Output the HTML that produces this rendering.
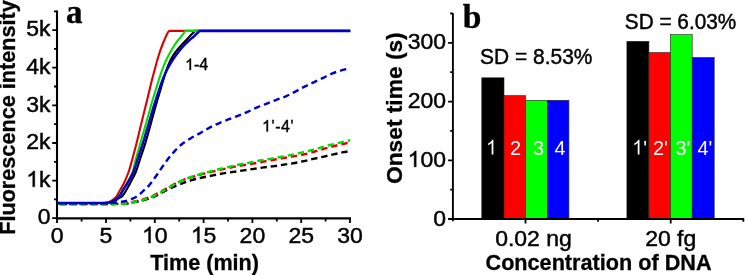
<!DOCTYPE html>
<html>
<head>
<meta charset="utf-8">
<style>
html,body{margin:0;padding:0;background:#fff;}
body{width:747px;height:275px;overflow:hidden;}
svg{display:block;will-change:transform;}
text{font-family:"Liberation Sans", sans-serif;}
.t{font-size:23px;fill:#000;stroke:#000;stroke-width:0.45px;}
.sd{font-size:21px;fill:#000;stroke:#000;stroke-width:0.45px;}
.b{font-size:22px;font-weight:bold;fill:#000;stroke:#000;stroke-width:0.3px;}
.w{font-size:20px;fill:#fff;}
.s{font-size:16px;fill:#000;stroke:#000;stroke-width:0.4px;}
.h{fill:none;stroke:none;}
.p{font-family:"Liberation Serif", serif;font-size:33px;font-weight:bold;fill:#000;stroke:#000;stroke-width:0.4px;}
</style>
</head>
<body>
<svg width="747" height="275" viewBox="0 0 747 275">
<!-- ================= PLOT A ================= -->
<g id="curvesA" fill="none" stroke-linejoin="round" stroke-linecap="butt">
  <path stroke="#000" stroke-width="2.4" stroke-dasharray="6.40 3.88" stroke-dashoffset="-3.55" d="M57.0,204.0 C74.7,204.0 92.3,204.0 110.0,204.0 C112.7,204.0 115.3,203.9 118.0,203.9 C120.7,203.9 123.3,204.1 126.0,203.8 C128.6,203.5 131.1,202.8 133.7,202.3 C137.1,201.6 140.5,201.1 143.8,200.2 C147.1,199.3 150.4,198.2 153.5,196.9 C156.7,195.6 159.6,193.8 162.7,192.2 C165.9,190.6 169.0,188.8 172.3,187.3 C175.4,185.9 178.5,184.7 181.7,183.5 C185.1,182.3 188.5,181.1 191.9,180.1 C195.3,179.1 198.7,178.3 202.1,177.5 C205.7,176.7 209.4,176.1 213.0,175.4 C216.4,174.7 219.8,174.0 223.2,173.4 C226.6,172.8 230.0,172.4 233.4,171.9 C236.8,171.4 240.1,170.9 243.5,170.4 C247.0,169.9 250.4,169.4 253.9,168.9 C257.2,168.4 260.4,167.8 263.7,167.4 C267.2,166.9 270.8,166.6 274.3,166.1 C277.6,165.7 280.8,165.1 284.1,164.6 C287.7,164.1 291.2,163.6 294.8,163.0 C297.8,162.5 300.8,161.9 303.8,161.2 C306.9,160.5 310.1,159.6 313.2,158.9 C316.5,158.2 319.7,157.5 323.0,156.8 C326.5,156.0 329.9,155.2 333.4,154.4 C336.8,153.6 340.1,152.9 343.5,152.2 C345.7,151.7 348.0,151.4 350.2,151.0"/>
  <path stroke="#dd0000" stroke-width="2.4" stroke-dasharray="6.40 4.00" stroke-dashoffset="-2.33" d="M57.0,204.0 C74.7,204.0 92.3,204.0 110.0,204.0 C112.7,204.0 115.3,204.0 118.0,203.9 C120.7,203.8 123.4,203.8 126.0,203.4 C128.6,203.0 131.1,202.2 133.7,201.6 C137.1,200.8 140.5,200.1 143.8,199.1 C147.1,198.1 150.4,196.9 153.5,195.5 C156.7,194.1 159.7,192.3 162.7,190.6 C165.6,189.0 168.4,187.3 171.3,185.7 C174.0,184.2 176.7,182.7 179.5,181.5 C182.6,180.1 185.8,179.0 189.0,177.9 C192.4,176.8 195.8,175.9 199.2,175.0 C202.6,174.1 206.0,173.3 209.4,172.4 C212.8,171.6 216.1,170.7 219.5,169.9 C222.9,169.1 226.3,168.4 229.7,167.7 C233.3,167.0 237.0,166.2 240.6,165.6 C244.2,165.0 247.8,164.5 251.4,163.9 C254.7,163.3 258.0,162.6 261.3,162.0 C264.6,161.4 267.8,160.8 271.1,160.2 C274.6,159.6 278.2,159.0 281.7,158.4 C285.0,157.8 288.2,157.2 291.5,156.6 C295.9,155.8 300.4,155.2 304.8,154.2 C308.1,153.5 311.3,152.4 314.6,151.5 C317.9,150.6 321.1,149.6 324.4,148.7 C327.7,147.8 330.9,146.8 334.2,146.0 C337.7,145.1 341.3,144.4 344.9,143.6 C346.7,143.2 348.4,142.9 350.2,142.6"/>
  <path stroke="#00dd00" stroke-width="2.4" stroke-dasharray="6.40 3.91" stroke-dashoffset="-1.74" d="M57.0,204.0 C74.7,204.0 92.3,204.0 110.0,204.0 C112.7,204.0 115.3,204.0 118.0,203.9 C120.7,203.8 123.4,203.9 126.0,203.6 C128.6,203.3 131.1,202.6 133.7,202.0 C137.1,201.2 140.5,200.6 143.8,199.6 C147.1,198.6 150.4,197.5 153.5,196.1 C156.7,194.7 159.7,192.9 162.7,191.2 C165.6,189.6 168.4,187.8 171.3,186.1 C174.0,184.6 176.7,182.9 179.5,181.6 C182.6,180.1 185.8,178.8 189.0,177.6 C192.3,176.4 195.8,175.4 199.2,174.4 C202.6,173.4 206.0,172.5 209.4,171.6 C212.8,170.7 216.1,169.8 219.5,169.0 C222.9,168.2 226.3,167.4 229.7,166.6 C233.3,165.8 237.0,165.0 240.6,164.3 C244.2,163.6 247.8,163.0 251.4,162.3 C254.7,161.7 258.0,160.9 261.3,160.3 C264.6,159.7 267.8,159.2 271.1,158.6 C274.6,158.0 278.2,157.4 281.7,156.8 C285.0,156.2 288.2,155.6 291.5,154.9 C294.8,154.2 298.2,153.4 301.5,152.6 C304.8,151.8 308.1,151.1 311.3,150.2 C314.6,149.3 317.9,148.2 321.2,147.3 C324.2,146.5 327.1,145.7 330.1,145.0 C333.4,144.2 336.7,143.4 340.0,142.6 C343.4,141.8 346.8,141.0 350.2,140.2"/>
  <path stroke="#0000cc" stroke-width="2.4" stroke-dasharray="6.40 4.04" stroke-dashoffset="-1.35" d="M57.0,203.3 C74.0,203.3 91.0,203.4 108.0,203.3 C110.0,203.3 112.0,203.1 114.0,202.9 C115.7,202.7 117.3,202.5 119.0,202.2 C121.0,201.9 123.0,201.7 125.0,201.2 C127.6,200.5 130.1,199.6 132.6,198.6 C134.1,198.0 135.6,197.2 137.0,196.3 C138.5,195.3 139.9,194.0 141.3,192.8 C142.7,191.6 144.1,190.3 145.5,189.0 C146.8,187.8 148.1,186.6 149.2,185.2 C151.3,182.6 153.3,179.9 155.2,177.2 C157.5,174.0 159.6,170.8 161.8,167.6 C163.7,164.9 165.6,162.2 167.6,159.6 C169.7,156.9 171.9,154.1 174.2,151.6 C176.7,148.9 179.2,146.3 182.0,144.0 C184.8,141.8 187.9,140.0 190.9,138.2 C194.2,136.2 197.6,134.6 200.9,132.7 C204.0,131.0 206.9,129.0 210.0,127.4 C213.3,125.7 216.6,124.2 220.0,122.8 C223.0,121.5 226.1,120.4 229.1,119.2 C232.4,117.9 235.8,116.7 239.1,115.4 C242.2,114.2 245.2,112.9 248.2,111.6 C251.2,110.3 254.2,108.7 257.2,107.4 C260.4,106.0 263.6,104.9 266.8,103.6 C270.0,102.3 273.3,101.0 276.5,99.8 C279.6,98.6 282.8,97.6 285.9,96.3 C289.1,94.9 292.3,93.2 295.4,91.6 C298.6,89.9 301.8,88.0 305.0,86.4 C308.0,84.9 311.1,83.5 314.1,82.1 C317.3,80.6 320.5,79.1 323.7,77.6 C326.6,76.2 329.5,74.6 332.5,73.4 C335.6,72.1 338.9,71.1 342.1,70.2 C344.8,69.4 347.5,68.9 350.2,68.3"/>
  <path stroke="#dd0000" stroke-width="2.1" d="M57.0,203.0 C71.3,203.0 85.7,203.1 100.0,203.0 C101.7,203.0 103.3,203.0 105.0,202.8 C106.2,202.7 107.4,202.5 108.5,202.1 C109.6,201.8 110.6,201.3 111.5,200.7 C112.4,200.1 113.2,199.4 114.0,198.7 C114.8,198.0 115.9,197.4 116.5,196.5 C117.9,194.5 118.9,192.2 120.1,190.0 C121.6,187.3 123.2,184.8 124.5,182.0 C126.0,178.7 127.4,175.4 128.6,172.0 C130.0,168.1 131.0,164.0 132.1,160.0 C133.5,155.0 134.8,150.0 136.1,145.0 C137.4,140.0 138.5,135.0 139.7,130.0 C140.9,125.0 142.2,120.0 143.4,115.0 C144.6,110.0 145.9,105.0 147.1,100.0 C147.9,96.7 148.7,93.3 149.5,90.0 C150.3,86.7 151.1,83.3 151.9,80.0 C152.8,76.7 153.7,73.3 154.6,70.0 C155.5,66.7 156.3,63.3 157.3,60.0 C158.1,57.3 158.9,54.7 159.8,52.0 C160.6,49.6 161.4,47.3 162.3,45.0 C163.0,43.1 163.8,41.3 164.6,39.5 C165.2,38.0 165.9,36.5 166.6,35.0 C167.0,34.1 167.4,33.1 168.0,32.3 C168.4,31.8 168.9,31.4 169.3,30.9 L350.2,30.9"/>
  <path stroke="#000" stroke-width="2.1" d="M57.0,203.0 C72.3,203.0 87.7,203.1 103.0,203.0 C104.7,203.0 106.3,203.0 108.0,202.8 C109.3,202.7 110.7,202.5 112.0,202.1 C113.2,201.7 114.4,201.2 115.5,200.6 C116.6,200.0 117.5,199.1 118.5,198.4 C119.8,197.6 121.4,197.1 122.4,196.0 C124.0,194.2 125.2,192.1 126.4,190.0 C128.0,187.4 129.4,184.7 130.8,182.0 C132.5,178.7 134.4,175.4 135.8,172.0 C137.4,168.1 138.5,164.0 139.8,160.0 C141.5,155.0 143.2,150.0 144.8,145.0 C146.3,140.0 147.7,135.0 149.1,130.0 C150.5,125.0 151.8,120.0 153.2,115.0 C154.6,110.0 156.0,105.0 157.4,100.0 C158.4,96.7 159.4,93.3 160.4,90.0 C161.4,86.7 162.3,83.3 163.3,80.0 C164.3,76.7 165.2,73.3 166.4,70.0 C167.6,66.6 169.0,63.2 170.6,60.0 C172.0,57.2 173.7,54.5 175.6,52.0 C177.4,49.5 179.6,47.3 181.6,45.0 C183.0,43.5 184.4,42.0 185.8,40.5 C187.1,39.2 188.3,37.8 189.6,36.5 C190.5,35.5 191.4,34.5 192.4,33.5 C193.3,32.6 194.3,31.8 195.2,30.9 L350.2,30.9"/>
  <path stroke="#00dd00" stroke-width="2.1" d="M57.0,203.0 C72.0,203.0 87.0,203.1 102.0,203.0 C103.7,203.0 105.3,203.0 107.0,202.8 C108.2,202.7 109.4,202.5 110.5,202.1 C111.6,201.7 112.8,201.2 113.8,200.6 C114.8,200.0 115.6,199.2 116.4,198.5 C117.4,197.7 118.4,197.0 119.2,196.0 C120.6,194.1 121.6,192.0 122.8,190.0 C124.4,187.3 126.2,184.7 127.7,182.0 C129.5,178.7 131.3,175.5 132.6,172.0 C134.0,168.1 134.5,164.0 135.6,160.0 C136.9,155.0 138.4,150.0 139.8,145.0 C141.2,140.0 142.7,135.0 144.1,130.0 C145.5,125.0 147.0,120.0 148.4,115.0 C149.8,110.0 151.1,105.0 152.6,100.0 C153.6,96.7 154.7,93.3 155.7,90.0 C156.7,86.7 157.7,83.3 158.8,80.0 C159.9,76.7 160.9,73.3 162.1,70.0 C163.4,66.6 164.7,63.3 166.2,60.0 C167.5,57.3 168.9,54.6 170.4,52.0 C171.7,49.6 173.1,47.3 174.6,45.0 C175.7,43.3 176.9,41.6 178.2,40.0 C179.1,38.8 180.2,37.7 181.2,36.5 C182.0,35.5 182.8,34.3 183.6,33.3 C184.2,32.5 184.9,31.7 185.6,30.9 L350.2,30.9"/>
  <path stroke="#0000c8" stroke-width="2.5" d="M57.0,203.0 C72.0,203.0 87.0,203.1 102.0,203.0 C103.7,203.0 105.3,203.0 107.0,202.8 C108.2,202.7 109.4,202.5 110.5,202.1 C111.6,201.7 112.8,201.2 113.8,200.6 C114.8,200.0 115.7,199.2 116.6,198.5 C117.6,197.7 118.7,197.0 119.5,196.0 C120.9,194.1 121.9,192.0 123.1,190.0 C124.7,187.3 126.5,184.7 128.1,182.0 C130.0,178.7 131.9,175.5 133.4,172.0 C135.0,168.1 136.1,164.0 137.4,160.0 C139.1,155.0 140.8,150.0 142.4,145.0 C144.0,140.0 145.3,135.0 146.8,130.0 C148.3,125.0 149.7,120.0 151.2,115.0 C152.7,110.0 154.2,105.0 155.8,100.0 C156.9,96.7 158.0,93.3 159.1,90.0 C160.2,86.7 161.3,83.3 162.6,80.0 C163.9,76.6 165.3,73.2 166.9,70.0 C168.6,66.6 170.5,63.2 172.6,60.0 C174.4,57.2 176.4,54.6 178.4,52.0 C180.3,49.6 182.3,47.2 184.4,45.0 C186.0,43.2 187.8,41.6 189.6,40.0 C191.1,38.7 192.7,37.5 194.2,36.2 C195.3,35.3 196.2,34.2 197.2,33.2 C198.0,32.4 198.8,31.7 199.6,30.9 L350.2,30.9"/>
</g>
<!-- axes A -->
<g stroke="#000" stroke-width="1.9" fill="none">
  <path d="M57.0,10.4 V219.3 M56.0,218.35 H350.9" stroke-width="2.1"/>
  <!-- y major ticks -->
  <path d="M52.2,218.2 H57 M52.2,180.6 H57 M52.2,143 H57 M52.2,105.4 H57 M52.2,67.6 H57 M52.2,30.2 H57" stroke-width="1.8"/>
  <!-- y minor ticks -->
  <path d="M54,199.4 H57 M54,161.8 H57 M54,124.2 H57 M54,86.5 H57 M54,48.9 H57 M54,11.3 H57" stroke-width="1.8"/>
  <!-- x major ticks -->
  <path d="M57.0,218 V223.1 M106,218 V223.1 M154.8,218 V223.1 M203.6,218 V223.1 M252.4,218 V223.1 M301.2,218 V223.1 M350,218 V223.1" stroke-width="1.8"/>
  <!-- x minor ticks -->
  <path d="M81.6,218 V221.6 M130.4,218 V221.6 M179.2,218 V221.6 M228,218 V221.6 M276.8,218 V221.6 M325.6,218 V221.6" stroke-width="1.8"/>
</g>
<!-- tick labels A -->

<!-- ================= PLOT B ================= -->
<g stroke="#222" stroke-width="0.6">
  <rect x="481.80" y="77.80" width="22.20" height="141.20" fill="#000"/>
  <rect x="504.00" y="95.60" width="21.60" height="123.40" fill="#ff0000"/>
  <rect x="525.60" y="100.30" width="21.70" height="118.70" fill="#00ff00"/>
  <rect x="547.30" y="100.30" width="21.60" height="118.70" fill="#0000ff"/>
  <rect x="626.90" y="41.30" width="22.00" height="177.70" fill="#000"/>
  <rect x="648.90" y="52.50" width="21.50" height="166.50" fill="#ff0000"/>
  <rect x="670.40" y="34.60" width="21.80" height="184.40" fill="#00ff00"/>
  <rect x="692.20" y="57.50" width="22.00" height="161.50" fill="#0000ff"/>
</g>
<g stroke="#000" stroke-width="1.9" fill="none">
  <path d="M452.9,13.2 V221.3 M452,219 H744.2"/>
  <path d="M448.1,219 H453 M448.1,160.3 H453 M448.1,101.6 H453 M448.1,42.8 H453" stroke-width="1.8"/>
  <path d="M450.2,189.6 H453 M450.2,130.9 H453 M450.2,72.2 H453 M450.2,13.5 H453" stroke-width="1.8"/>
  <path d="M525.5,219 V223.6 M670.7,219 V223.6" stroke-width="1.8"/>
  <path d="M598,219 V221.8 M743.3,219 V221.8" stroke-width="1.8"/>
</g>
<!--TEXT-START-->
<text class="t" transform="translate(50.50,224.40) scale(1.045,1)" text-anchor="end" style="font-size:22px;">0</text>
<g transform="translate(50.50,186.80) scale(1.045,1)"><text class="t" text-anchor="end" style="font-size:22px;"><tspan class="h">1</tspan>k</text><path d="M763,0L583,0L583,1147Q518,1085 412,1023Q307,961 223,930L223,1104Q373,1175 486,1276Q599,1377 645,1472L763,1472Z" transform="translate(-23.24,0) scale(0.01074,-0.01074)" fill="#000" stroke="#000" stroke-width="0.45" vector-effect="non-scaling-stroke"/></g>
<text class="t" transform="translate(50.50,149.20) scale(1.045,1)" text-anchor="end" style="font-size:22px;">2k</text>
<text class="t" transform="translate(50.50,111.60) scale(1.045,1)" text-anchor="end" style="font-size:22px;">3k</text>
<text class="t" transform="translate(50.50,73.80) scale(1.045,1)" text-anchor="end" style="font-size:22px;">4k</text>
<text class="t" transform="translate(50.50,36.40) scale(1.045,1)" text-anchor="end" style="font-size:22px;">5k</text>
<text class="t" transform="translate(57.20,242.90) scale(1.02,1)" text-anchor="middle" style="font-size:22.6px;">0</text>
<text class="t" transform="translate(106.00,242.90) scale(1.02,1)" text-anchor="middle" style="font-size:22.6px;">5</text>
<g transform="translate(154.80,242.90) scale(1.02,1)"><text class="t" text-anchor="middle" style="font-size:22.6px;"><tspan class="h">1</tspan>0</text><path d="M763,0L583,0L583,1147Q518,1085 412,1023Q307,961 223,930L223,1104Q373,1175 486,1276Q599,1377 645,1472L763,1472Z" transform="translate(-12.57,0) scale(0.01104,-0.01104)" fill="#000" stroke="#000" stroke-width="0.45" vector-effect="non-scaling-stroke"/></g>
<g transform="translate(203.60,242.90) scale(1.02,1)"><text class="t" text-anchor="middle" style="font-size:22.6px;"><tspan class="h">1</tspan>5</text><path d="M763,0L583,0L583,1147Q518,1085 412,1023Q307,961 223,930L223,1104Q373,1175 486,1276Q599,1377 645,1472L763,1472Z" transform="translate(-12.57,0) scale(0.01104,-0.01104)" fill="#000" stroke="#000" stroke-width="0.45" vector-effect="non-scaling-stroke"/></g>
<text class="t" transform="translate(252.40,242.90) scale(1.02,1)" text-anchor="middle" style="font-size:22.6px;">20</text>
<text class="t" transform="translate(301.20,242.90) scale(1.02,1)" text-anchor="middle" style="font-size:22.6px;">25</text>
<text class="t" transform="translate(350.00,242.90) scale(1.02,1)" text-anchor="middle" style="font-size:22.6px;">30</text>
<text class="b" transform="translate(150.20,269.80)" style="font-size:21.6px;">Time (min)</text>
<text class="b" transform="translate(15.20,234.80) rotate(-90)" style="font-size:21.65px;">Fluorescence intensity</text>
<text class="p" transform="translate(66.00,23.00)" style="font-size:33px;">a</text>
<g transform="translate(185.00,70.00)"><text class="s" style="font-size:16px;"><tspan class="h">1</tspan>-4</text><path d="M763,0L583,0L583,1147Q518,1085 412,1023Q307,961 223,930L223,1104Q373,1175 486,1276Q599,1377 645,1472L763,1472Z" transform="translate(0.00,0) scale(0.00781,-0.00781)" fill="#000" stroke="#000" stroke-width="0.4" vector-effect="non-scaling-stroke"/></g>
<g transform="translate(262.00,131.50)"><text class="s" style="font-size:16px;letter-spacing:0.6px;"><tspan class="h">1</tspan>'-4'</text><path d="M763,0L583,0L583,1147Q518,1085 412,1023Q307,961 223,930L223,1104Q373,1175 486,1276Q599,1377 645,1472L763,1472Z" transform="translate(0.00,0) scale(0.00781,-0.00781)" fill="#000" stroke="#000" stroke-width="0.4" vector-effect="non-scaling-stroke"/></g>
<text class="t" transform="translate(446.00,225.60) scale(1.045,1)" text-anchor="end" style="font-size:22px;">0</text>
<g transform="translate(446.00,166.90) scale(1.045,1)"><text class="t" text-anchor="end" style="font-size:22px;"><tspan class="h">1</tspan>00</text><path d="M763,0L583,0L583,1147Q518,1085 412,1023Q307,961 223,930L223,1104Q373,1175 486,1276Q599,1377 645,1472L763,1472Z" transform="translate(-36.71,0) scale(0.01074,-0.01074)" fill="#000" stroke="#000" stroke-width="0.45" vector-effect="non-scaling-stroke"/></g>
<text class="t" transform="translate(446.00,108.20) scale(1.045,1)" text-anchor="end" style="font-size:22px;">200</text>
<text class="t" transform="translate(446.00,49.40) scale(1.045,1)" text-anchor="end" style="font-size:22px;">300</text>
<g transform="translate(491.50,154.60) scale(0.97,1)"><text class="w" text-anchor="middle" style="font-size:20.5px;"><tspan class="h">1</tspan></text><path d="M763,0L583,0L583,1147Q518,1085 412,1023Q307,961 223,930L223,1104Q373,1175 486,1276Q599,1377 645,1472L763,1472Z" transform="translate(-5.70,0) scale(0.01001,-0.01001)" fill="#fff"/></g>
<text class="w" transform="translate(515.50,154.60) scale(0.97,1)" text-anchor="middle" style="font-size:20.5px;">2</text>
<text class="w" transform="translate(538.50,154.60) scale(0.97,1)" text-anchor="middle" style="font-size:20.5px;">3</text>
<text class="w" transform="translate(560.00,154.60) scale(0.97,1)" text-anchor="middle" style="font-size:20.5px;">4</text>
<g transform="translate(639.50,154.60) scale(0.97,1)"><text class="w" text-anchor="middle" style="font-size:20.5px;"><tspan class="h">1</tspan>'</text><path d="M763,0L583,0L583,1147Q518,1085 412,1023Q307,961 223,930L223,1104Q373,1175 486,1276Q599,1377 645,1472L763,1472Z" transform="translate(-7.66,0) scale(0.01001,-0.01001)" fill="#fff"/></g>
<text class="w" transform="translate(660.50,154.60) scale(0.97,1)" text-anchor="middle" style="font-size:20.5px;">2'</text>
<text class="w" transform="translate(683.00,154.60) scale(0.97,1)" text-anchor="middle" style="font-size:20.5px;">3'</text>
<text class="w" transform="translate(705.00,154.60) scale(0.97,1)" text-anchor="middle" style="font-size:20.5px;">4'</text>
<text class="sd" transform="translate(480.10,63.80) scale(0.952,1)" style="font-size:22px;">SD = 8.53%</text>
<text class="sd" transform="translate(624.80,28.90) scale(0.945,1)" style="font-size:22px;">SD = 6.03%</text>
<text class="t" transform="translate(533.50,245.70) scale(1.045,1)" text-anchor="middle" style="font-size:22px;">0.02 ng</text>
<text class="t" transform="translate(670.70,245.70) scale(1.045,1)" text-anchor="middle" style="font-size:22px;">20 fg</text>
<text class="b" transform="translate(598.50,269.70)" text-anchor="middle" style="font-size:21.65px;">Concentration of DNA</text>
<text class="b" transform="translate(401.60,184.00) rotate(-90)" style="font-size:22.75px;">Onset time (s)</text>
<text class="p" transform="translate(462.80,27.50)" style="font-size:33.5px;">b</text>
<!--TEXT-END-->
</svg>
</body>
</html>
